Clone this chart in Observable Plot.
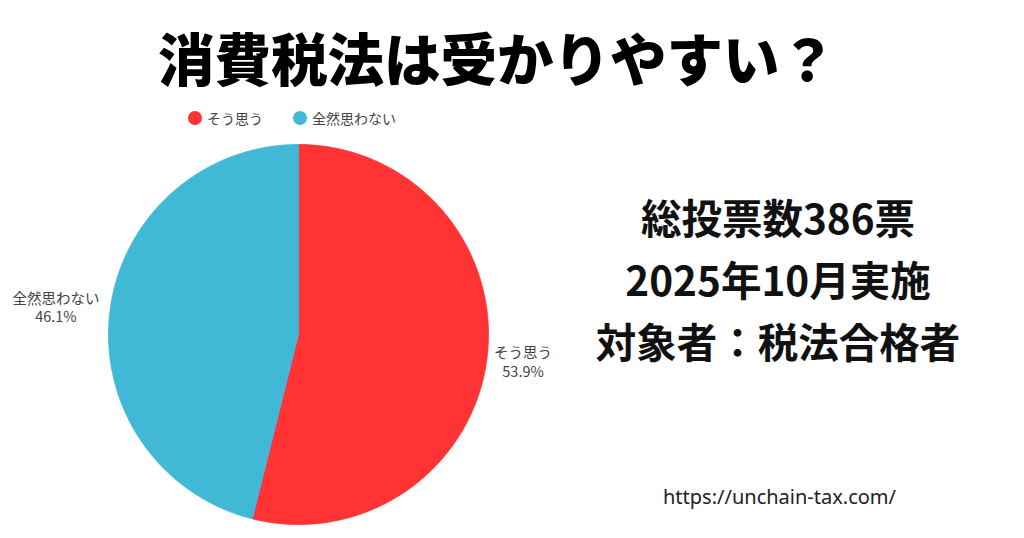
<!DOCTYPE html>
<html>
<head>
<meta charset="utf-8">
<script src="https://cdn.jsdelivr.net/npm/d3@7"></script>
<script src="https://cdn.jsdelivr.net/npm/@observablehq/plot@0.6"></script>
<style>
  html, body { margin: 0; padding: 0; background: #fff; }
  body { width: 1024px; height: 538px; position: relative; overflow: hidden;
         font-family: "Noto Sans CJK JP", "Noto Sans", sans-serif; }
  #title { position: absolute; left: 4px; width: 986px; top: 28px; text-align: center;
           font-size: 56.5px; line-height: 56px; font-weight: 900; color: #000; white-space: nowrap; }
  #legend { position: absolute; left: 188px; top: 108px; font-size: 14px; line-height: 20px; color: #444;
            display: flex; gap: 0; white-space: nowrap; }
  .item { display: flex; align-items: center; }
  .sw { width: 14px; height: 14px; border-radius: 50%; margin-right: 5px; }
  #chart { position: absolute; left: 0; top: 134px; }
  #info { position: absolute; left: 578px; width: 400px; top: 186px; text-align: center;
          font-size: 40.5px; line-height: 62px; font-weight: 700; color: #111; white-space: nowrap; }
  #url { position: absolute; left: 663px; top: 485px; font-family: "Noto Sans", sans-serif;
         font-size: 20px; line-height: 24px; color: #222; }
</style>
</head>
<body>
<div id="title"></div>
<div id="legend"></div>
<div id="chart"></div>
<div id="info"></div>
<div id="url"></div>
<script>
const titleText = "消費税法は受かりやすい？";
const categories = ["そう思う", "全然思わない"];
const percents = [53.9, 46.1];
const colors = ["#FF3333", "#40B8D6"];
const infoLines = ["総投票数386票", "2025年10月実施", "対象者：税法合格者"];
const urlText = "https://unchain-tax.com/";

document.getElementById("title").textContent = titleText;
document.getElementById("info").innerHTML = infoLines.map(s => `<div>${s}</div>`).join("");
document.getElementById("url").textContent = urlText;

const legend = document.getElementById("legend");
categories.forEach((c, i) => {
  const it = document.createElement("div");
  it.className = "item";
  it.style.marginRight = "30px";
  it.innerHTML = `<span class="sw" style="background:${colors[i]}"></span><span>${c}</span>`;
  legend.appendChild(it);
});

// pie geometry from data
const arcs = d3.pie().sort(null).value(d => d.value)(
  categories.map((c, i) => ({name: c, value: percents[i]}))
);
const step = Math.PI / 360;
const polys = arcs.map(a => {
  const pts = [{x: 0, y: 0}];
  const angles = d3.range(a.startAngle, a.endAngle, step).concat([a.endAngle]);
  for (const t of angles) pts.push({x: Math.sin(t), y: Math.cos(t)});
  pts.push({x: 0, y: 0});
  return {name: a.data.name, pts};
});
const labels = arcs.map(a => {
  const m = (a.startAngle + a.endAngle) / 2;
  return {x: Math.sin(m), y: Math.cos(m), name: a.data.name, pct: `${a.data.value}%`, right: Math.sin(m) >= 0};
});

const marks = polys.map((p, i) =>
  Plot.line(p.pts, {x: "x", y: "y", fill: colors[i], stroke: colors[i], strokeWidth: 0.8, curve: "linear"})
);
const lab = {x: "x", y: "y", textAnchor: "middle", fontSize: 14.5, fill: "#444"};
const R = labels.filter(d => d.right), L = labels.filter(d => !d.right);
marks.push(
  Plot.text(R, {...lab, text: "name", dx: 36, dy: -4}),
  Plot.text(R, {...lab, text: "pct", dx: 36, dy: 14.5}),
  Plot.text(L, {...lab, text: "name", dx: -54, dy: -12}),
  Plot.text(L, {...lab, text: "pct", dx: -54, dy: 6.5})
);

const plot = Plot.plot({
  width: 600,
  height: 400,
  marginLeft: 108,
  marginRight: 112,
  marginTop: 10,
  marginBottom: 10,
  x: {domain: [-1, 1], axis: null},
  y: {domain: [-1, 1], axis: null},
  style: {fontFamily: "'Noto Sans CJK JP', 'Noto Sans', sans-serif", overflow: "visible", background: "transparent"},
  marks
});
document.getElementById("chart").appendChild(plot);
</script>
</body>
</html>
